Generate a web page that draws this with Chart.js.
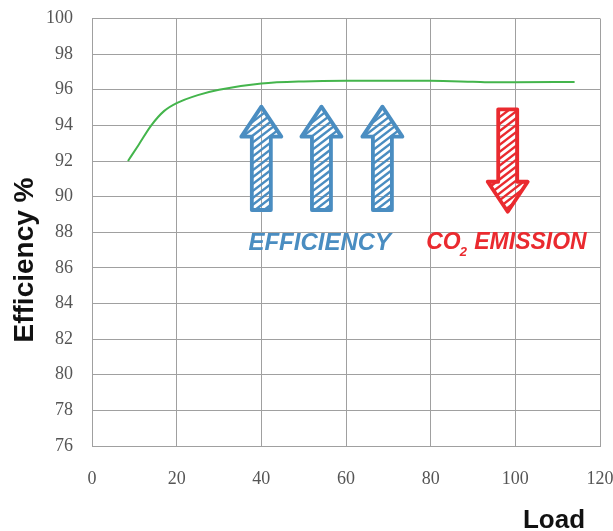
<!DOCTYPE html>
<html lang="en">
<head>
  <meta charset="UTF-8">
  <title>Efficiency vs Load</title>
  <script src="https://cdn.jsdelivr.net/npm/chart.js"></script>
  <style>
    body { margin: 0; background: #fff; }
    #wrap { width: 613px; height: 531px; }
  </style>
</head>
<body>
  <div id="wrap"><canvas id="chart"></canvas></div>
  <script>
    // efficiency curve
    const loadValues = [8.5, 11, 14, 17, 20, 25, 30, 40, 50, 60, 70, 80, 90, 95, 100, 114];
    const efficiencyValues = [92, 92.9, 94, 94.8, 95.25, 95.7, 96, 96.35, 96.47, 96.5, 96.5, 96.5, 96.45, 96.42, 96.42, 96.44];

    const xTicks = [0, 20, 40, 60, 80, 100, 120];
    const yTicks = [76, 78, 80, 82, 84, 86, 88, 90, 92, 94, 96, 98, 100];

    // decorative arrows, in data units (x, tip y, tail y)
    const upArrowsX = [40, 54.2, 68.6];
    const upArrowTip = 95.05;
    const upArrowTail = 89.25;
    const downArrowX = 98.2;
    const downArrowTip = 89.15;
    const downArrowTail = 94.9;

    // labels under the arrows, in data units
    const effLabel = { text: "EFFICIENCY", x: 53.8, y: 87.4 };
    const co2Label = { x: 97.9, y: 87.4 };

    const blue = "#4a8dc1";
    const red = "#ea2a2f";
    const gridColor = "#a0a0a0";

    const arrowPath = (ctx, cx, tipY, tailY) => {
      const dir = tipY < tailY ? -1 : 1;
      const headLen = 30, headHalf = 20, shaftHalf = 9.5;
      const hb = tipY - dir * headLen;
      ctx.beginPath();
      ctx.moveTo(cx, tipY);
      ctx.lineTo(cx + headHalf, hb);
      ctx.lineTo(cx + shaftHalf, hb);
      ctx.lineTo(cx + shaftHalf, tailY);
      ctx.lineTo(cx - shaftHalf, tailY);
      ctx.lineTo(cx - shaftHalf, hb);
      ctx.lineTo(cx - headHalf, hb);
      ctx.closePath();
    };

    const drawArrow = (ctx, cx, tipY, tailY, color) => {
      // hatching clipped to the arrow shape
      ctx.save();
      arrowPath(ctx, cx, tipY, tailY);
      ctx.clip();
      const top = Math.min(tipY, tailY), bottom = Math.max(tipY, tailY);
      const h = bottom - top;
      ctx.strokeStyle = color;
      ctx.lineWidth = 2.4;
      for (let x = cx - 25 - h * 1.3; x < cx + 25; x += 9) {
        ctx.beginPath();
        ctx.moveTo(x, bottom);
        ctx.lineTo(x + h * 1.3, top);
        ctx.stroke();
      }
      ctx.restore();

      ctx.save();
      arrowPath(ctx, cx, tipY, tailY);
      ctx.strokeStyle = color;
      ctx.lineWidth = 3.8;
      ctx.lineJoin = "round";
      ctx.stroke();
      ctx.restore();
    };

    const decorations = {
      id: "decorations",
      afterDatasetsDraw(chart) {
        const { ctx, scales: { x, y } } = chart;
        upArrowsX.forEach(v => drawArrow(ctx, x.getPixelForValue(v), y.getPixelForValue(upArrowTip), y.getPixelForValue(upArrowTail), blue));
        drawArrow(ctx, x.getPixelForValue(downArrowX), y.getPixelForValue(downArrowTip), y.getPixelForValue(downArrowTail), red);

        ctx.save();
        ctx.textBaseline = "middle";
        ctx.textAlign = "center";
        ctx.font = "italic bold 24px 'Liberation Sans', Arial, sans-serif";
        ctx.fillStyle = blue;
        ctx.fillText(effLabel.text, x.getPixelForValue(effLabel.x), y.getPixelForValue(effLabel.y));

        // CO2 EMISSION with a subscript 2
        ctx.fillStyle = red;
        ctx.textAlign = "left";
        const big = "italic bold 23px 'Liberation Sans', Arial, sans-serif";
        const small = "italic bold 13px 'Liberation Sans', Arial, sans-serif";
        ctx.font = big;
        const wCO = ctx.measureText("CO").width;
        const wRest = ctx.measureText(" EMISSION").width;
        ctx.font = small;
        const w2 = ctx.measureText("2").width;
        const total = wCO + w2 + wRest;
        let px = x.getPixelForValue(co2Label.x) - total / 2;
        const py = y.getPixelForValue(co2Label.y);
        ctx.font = big;
        ctx.fillText("CO", px, py);
        px += wCO;
        ctx.font = small;
        ctx.fillText("2", px - 1, py + 9);
        px += w2;
        ctx.font = big;
        ctx.fillText(" EMISSION", px, py);

        // axis titles
        ctx.fillStyle = "#111";
        ctx.textAlign = "center";
        ctx.textBaseline = "alphabetic";
        ctx.font = "bold 26px 'Liberation Sans', Arial, sans-serif";
        ctx.fillText("Load", 554, 528);
        ctx.translate(33, 260);
        ctx.rotate(-Math.PI / 2);
        ctx.font = "bold 28px 'Liberation Sans', Arial, sans-serif";
        ctx.fillText("Efficiency %", 0, 0);
        ctx.restore();
      }
    };

    const bgPlugin = {
      id: "bg",
      beforeDraw(chart) {
        const { ctx } = chart;
        ctx.save();
        ctx.fillStyle = "#fff";
        ctx.fillRect(0, 0, chart.width, chart.height);
        ctx.restore();
      }
    };

    const tickFont = { family: "'Liberation Serif', 'DejaVu Serif', serif", size: 18 };

    new Chart(document.getElementById("chart"), {
      type: "line",
      data: {
        datasets: [{
          data: loadValues.map((v, i) => ({ x: v, y: efficiencyValues[i] })),
          borderColor: "#44b54c",
          borderWidth: 2,
          pointRadius: 0,
          fill: false,
          cubicInterpolationMode: "monotone"
        }]
      },
      options: {
        responsive: true,
        maintainAspectRatio: false,
        animation: false,
        layout: { padding: { top: 18.5, right: 13, left: 0, bottom: 0 } },
        plugins: { legend: { display: false }, tooltip: { enabled: false } },
        scales: {
          x: {
            type: "linear",
            min: 0,
            max: 120,
            afterBuildTicks: s => { s.ticks = xTicks.map(v => ({ value: v })); },
            afterFit: s => { s.height = 85; s.paddingLeft = 0; s.paddingRight = 0; },
            grid: { color: gridColor, drawTicks: false },
            border: { color: gridColor },
            ticks: { padding: 22, color: "#555", font: tickFont }
          },
          y: {
            min: 76,
            max: 100,
            afterBuildTicks: s => { s.ticks = yTicks.map(v => ({ value: v })); },
            afterFit: s => { s.width = 92; s.paddingTop = 0; s.paddingBottom = 0; },
            grid: { color: gridColor, drawTicks: false },
            border: { color: gridColor },
            ticks: { padding: 19, color: "#555", font: tickFont }
          }
        }
      },
      plugins: [bgPlugin, decorations]
    });
  </script>
</body>
</html>
